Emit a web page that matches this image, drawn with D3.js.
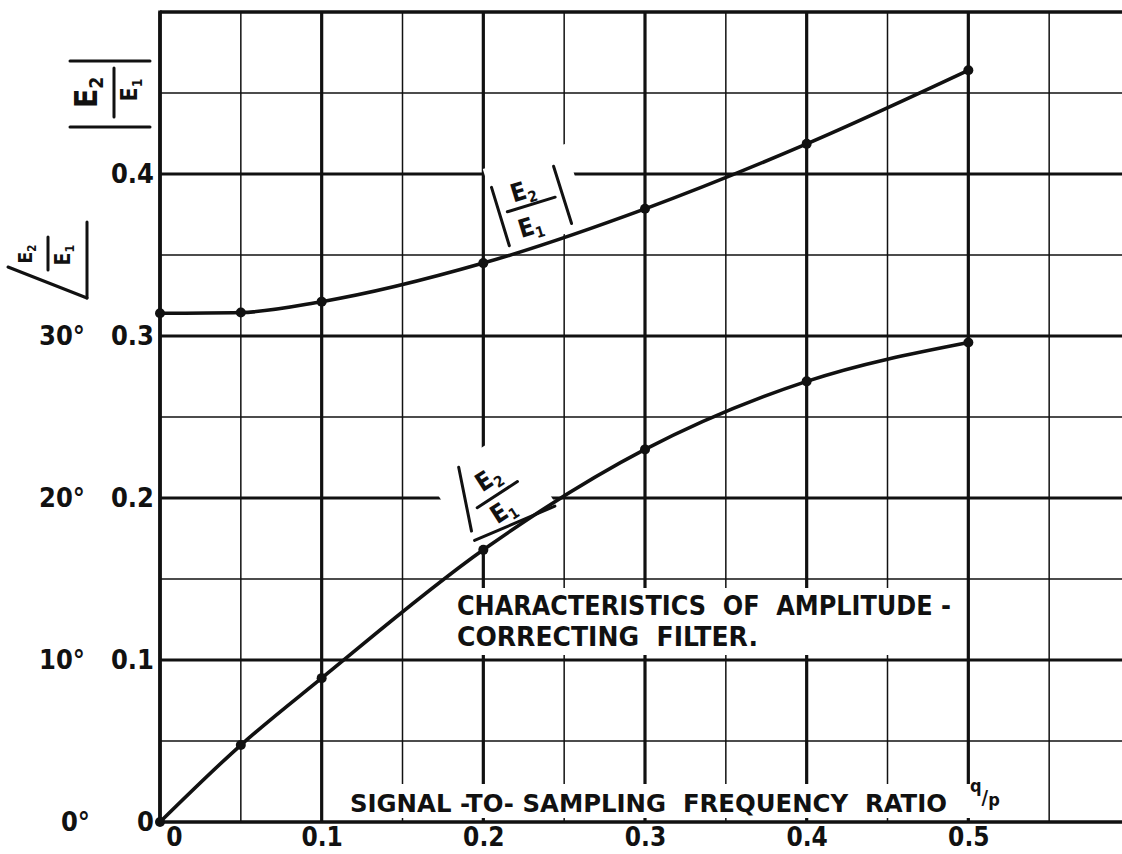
<!DOCTYPE html>
<html>
<head>
<meta charset="utf-8">
<script src="https://cdn.jsdelivr.net/npm/d3@7"></script>
<style>
  body { margin: 0; background: #fff; }
  svg { display: block; background: #fff; }
  text { font-family: "DejaVu Sans Condensed", "DejaVu Sans", sans-serif; font-weight: bold; fill: #111; white-space: pre; }
</style>
</head>
<body>
<div id="svganchor"></div>
<script>
let width = 1122, height = 854;

let margin = ({top: 12, right: 0, bottom: 32, left: 160});

// signal-to-sampling frequency ratio q/p of the measured points
let ratio = [0, 0.05, 0.1, 0.2, 0.3, 0.4, 0.5];
// |E2/E1|
let gain = [0.314, 0.3145, 0.3212, 0.345, 0.3785, 0.4186, 0.464];
// angle of E2/E1, degrees
let phase = [0, 4.75, 8.88, 16.8, 23.0, 27.2, 29.6];

let xGrid = [0, 0.05, 0.1, 0.15, 0.2, 0.25, 0.3, 0.35, 0.4, 0.45, 0.5, 0.55];
let yGrid = [0.05, 0.1, 0.15, 0.2, 0.25, 0.3, 0.35, 0.4, 0.45];
let xTicks = [0, 0.1, 0.2, 0.3, 0.4, 0.5];
let yTicks = [0, 0.1, 0.2, 0.3, 0.4];
let degTicks = [0, 10, 20, 30];

let xScale = d3.scaleLinear()
    .domain([0, 0.6])
    .range([margin.left, width + 8]);

let yScale = d3.scaleLinear()
    .domain([0, 0.5])
    .range([height - margin.bottom, margin.top]);

let phaseScale = d3.scaleLinear()
    .domain([0, 50])
    .range([height - margin.bottom, margin.top]);

let isMajor = function(v) { return Math.round(v * 100) % 10 === 0; };

let svg = d3.select("#svganchor")
    .append("svg")
    .attr("width", width)
    .attr("height", height);

let gridLayer = svg.append("g");
let maskLayer = svg.append("g").attr("fill", "#fff");
let axisLayer = svg.append("g");
let curveLayer = svg.append("g");
let labelLayer = svg.append("g");

// grid
gridLayer.selectAll(".vgrid")
    .data(xGrid)
    .join("line")
    .attr("class", "vgrid")
    .attr("x1", function(d) { return xScale(d); })
    .attr("x2", function(d) { return xScale(d); })
    .attr("y1", yScale(0.5))
    .attr("y2", yScale(0))
    .attr("stroke", "#111")
    .attr("stroke-width", function(d) { return isMajor(d) ? 3.2 : 1.5; });

gridLayer.selectAll(".hgrid")
    .data(yGrid)
    .join("line")
    .attr("class", "hgrid")
    .attr("x1", xScale(0))
    .attr("x2", width)
    .attr("y1", function(d) { return yScale(d); })
    .attr("y2", function(d) { return yScale(d); })
    .attr("stroke", "#111")
    .attr("stroke-width", function(d) { return isMajor(d) ? 3.2 : 1.5; });

// blank patches where the lettering breaks the grid
let gainAt = "translate(" + xScale(0.23) + "," + yScale(0.38) + ") rotate(-17)";
let phaseAt = "translate(" + xScale(0.21) + "," + yScale(0.2) + ") rotate(-33)";

maskLayer.append("rect").attr("transform", gainAt)
    .attr("x", -36).attr("y", -50).attr("width", 86).attr("height", 86);
maskLayer.append("rect").attr("transform", phaseAt)
    .attr("x", -50).attr("y", -52).attr("width", 94).attr("height", 84);
maskLayer.append("rect")
    .attr("x", 452).attr("y", 588).attr("width", 508).attr("height", 67);
maskLayer.append("rect")
    .attr("x", 345).attr("y", 784).attr("width", 657).attr("height", 34);

// frame
axisLayer.append("line")
    .attr("x1", xScale(0)).attr("x2", xScale(0))
    .attr("y1", yScale(0.5) - 1.5).attr("y2", yScale(0) + 1.5)
    .attr("stroke", "#111").attr("stroke-width", 3.6);
axisLayer.append("line")
    .attr("x1", xScale(0)).attr("x2", width)
    .attr("y1", yScale(0)).attr("y2", yScale(0))
    .attr("stroke", "#111").attr("stroke-width", 3.6);
axisLayer.append("line")
    .attr("x1", xScale(0)).attr("x2", width)
    .attr("y1", yScale(0.5)).attr("y2", yScale(0.5))
    .attr("stroke", "#111").attr("stroke-width", 3.4);

// curves
let gainPts = ratio.map(function(r, i) { return [xScale(r), yScale(gain[i])]; });
let phasePts = ratio.map(function(r, i) { return [xScale(r), phaseScale(phase[i])]; });

let line = d3.line().curve(d3.curveMonotoneX);

[gainPts, phasePts].forEach(function(pts) {
    curveLayer.append("path")
        .attr("d", line(pts))
        .attr("fill", "none")
        .attr("stroke", "#111")
        .attr("stroke-width", 3.6)
        .attr("stroke-linejoin", "round");

    curveLayer.selectAll(null)
        .data(pts)
        .join("circle")
        .attr("cx", function(d) { return d[0]; })
        .attr("cy", function(d) { return d[1]; })
        .attr("r", 5)
        .attr("fill", "#111");
});

// axes
let xAxis = d3.axisBottom(xScale)
    .tickValues(xTicks)
    .tickSize(0)
    .tickPadding(6)
    .tickFormat(function(d) { return d === 0 ? "0" : d3.format(".1f")(d); });

let gX = axisLayer.append("g")
    .attr("transform", "translate(0," + yScale(0) + ")")
    .call(xAxis)
    .attr("font-size", 26);
gX.select(".domain").remove();
gX.selectAll(".tick text").filter(function(d) { return d === 0; }).attr("dx", 14);

let yAxis = d3.axisLeft(yScale)
    .tickValues(yTicks)
    .tickSize(0)
    .tickPadding(0)
    .tickFormat(function(d) { return d === 0 ? "0" : d3.format(".1f")(d); });

let gY = axisLayer.append("g")
    .attr("transform", "translate(154,0)")
    .call(yAxis)
    .attr("font-size", 27);
gY.select(".domain").remove();

let degAxis = d3.axisLeft(phaseScale)
    .tickValues(degTicks)
    .tickSize(0)
    .tickPadding(0)
    .tickFormat(function(d) { return d + "°"; });

let gDeg = axisLayer.append("g")
    .attr("transform", "translate(85,0)")
    .call(degAxis)
    .attr("font-size", 27);
gDeg.select(".domain").remove();
gDeg.selectAll(".tick text").filter(function(d) { return d === 0; }).attr("dx", 5);

// E2 over E1 with subscripts
function fraction(g, o) {
    let top = g.append("text")
        .attr("text-anchor", "middle")
        .attr("x", o.topX).attr("y", o.topY)
        .attr("font-size", o.topSize);
    top.append("tspan").text("E");
    top.append("tspan").attr("font-size", o.topSize * 0.6).attr("dy", o.topSize * 0.2).text("2");

    let bottom = g.append("text")
        .attr("text-anchor", "middle")
        .attr("x", o.botX).attr("y", o.botY)
        .attr("font-size", o.botSize);
    bottom.append("tspan").text("E");
    bottom.append("tspan").attr("font-size", o.botSize * 0.6).attr("dy", o.botSize * 0.2).text("1");

    o.lines.forEach(function(l) {
        g.append("line")
            .attr("x1", l[0]).attr("y1", l[1])
            .attr("x2", l[2]).attr("y2", l[3])
            .attr("stroke", "#111")
            .attr("stroke-width", 3)
            .attr("stroke-linecap", "round");
    });
}

// |E2/E1| on the upper curve
fraction(labelLayer.append("g").attr("transform", gainAt), {
    topX: -4, topY: -9, topSize: 25,
    botX: -7, botY: 27, botSize: 25,
    lines: [[-25, -2, 25, -2], [-33, -30, -33, 31], [32.5, -32, 33, 28]]
});

// angle of E2/E1 on the lower curve
fraction(labelLayer.append("g").attr("transform", phaseAt), {
    topX: 1, topY: -14, topSize: 25,
    botX: -4, botY: 21, botSize: 25,
    lines: [[-24, -4, 24, -4], [-17.5, -48, -41.5, 12.5], [-44, 22, 42, 37]]
});

// axis titles at the left, lettered sideways
fraction(labelLayer.append("g").attr("transform", "translate(110,94) rotate(-90)"), {
    topX: 1.5, topY: -13, topSize: 32,
    botX: 4, botY: 27, botSize: 23,
    lines: [[-23, 4, 26, 4], [33, -40, 33, 40], [-33, -40, -33, 40]]
});

fraction(labelLayer.append("g").attr("transform", "translate(50,260) rotate(-90)"), {
    topX: 6, topY: -18, topSize: 19,
    botX: 5, botY: 20, botSize: 21,
    lines: [[-10, -2, 23, -2], [-38, 37, 38, 37], [-38, 37, -7, -42]]
});

// notes
labelLayer.append("text")
    .attr("x", 457).attr("y", 615)
    .attr("font-size", 27)
    .attr("textLength", 494)
    .attr("lengthAdjust", "spacingAndGlyphs")
    .text("CHARACTERISTICS  OF  AMPLITUDE -");

labelLayer.append("text")
    .attr("x", 457).attr("y", 646)
    .attr("font-size", 27)
    .attr("textLength", 301)
    .attr("lengthAdjust", "spacingAndGlyphs")
    .text("CORRECTING  FILTER.");

labelLayer.append("text")
    .attr("x", 350).attr("y", 812)
    .attr("font-size", 24)
    .attr("textLength", 597)
    .attr("lengthAdjust", "spacingAndGlyphs")
    .text("SIGNAL -TO- SAMPLING  FREQUENCY  RATIO");

let qp = labelLayer.append("text").attr("x", 970).attr("font-size", 18);
qp.append("tspan").attr("y", 792).text("q");
qp.append("tspan").attr("y", 804).attr("font-size", 20).text("/");
qp.append("tspan").attr("y", 806).text("p");
</script>
</body>
</html>
